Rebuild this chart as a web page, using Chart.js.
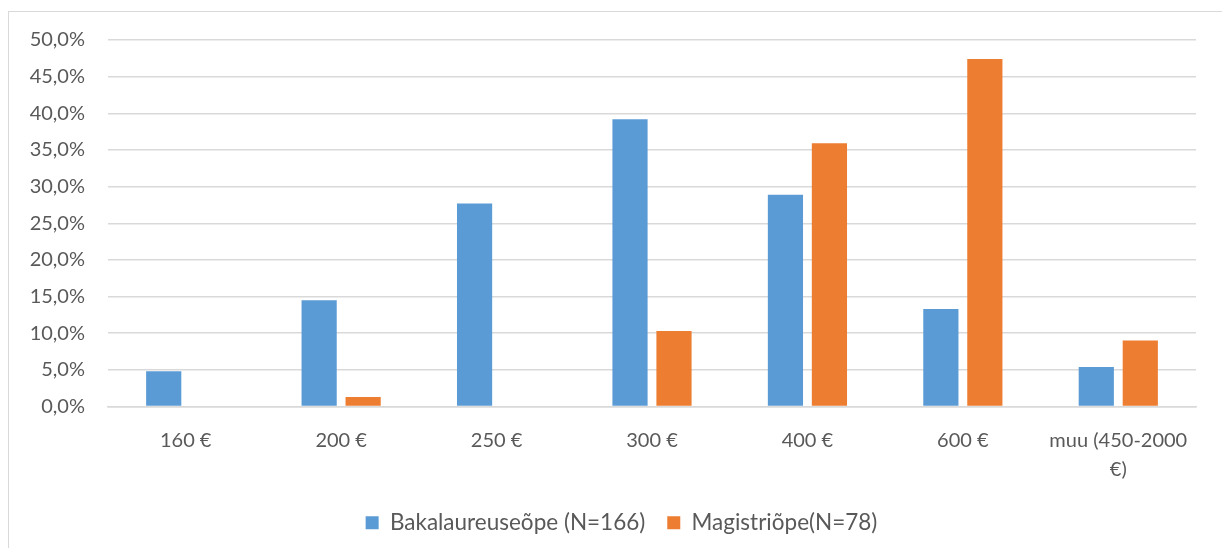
<!DOCTYPE html>
<html>
<head>
<meta charset="utf-8">
<script src="https://cdn.jsdelivr.net/npm/chart.js@4"></script>
<style>
    body { margin: 0; background: #fff; overflow: hidden; }
    #kast { position: absolute; left: 8px; top: 11px; width: 1260px; height: 580px;
            border-left: 1px solid #d9d9d9; border-top: 1px solid #d9d9d9; }
    #ChartDiv { position: absolute; left: 0; top: -7px; width: 1241px; height: 563px; }
</style>
</head>
<body>
<div id="kast">
    <div id="ChartDiv"><canvas id="SimulChart"></canvas></div>
</div>
<script>
/*Andmed*/
const kategooriad = ['160 €', '200 €', '250 €', '300 €', '400 €', '600 €', ['muu (450-2000', '€)']]
const bakalaureus = [4.8, 14.5, 27.7, 39.2, 28.9, 13.3, 5.4]
const magister = [0, 1.3, 0, 10.3, 35.9, 47.4, 9.0]
const seeriad = ['Bakalaureuseõpe (N=166)', 'Magistriõpe(N=78)']

/*Formaat 50,0%*/
function protsent(v) {
    return v.toFixed(1).replace('.', ',') + '%'
}

const tekst = '#595959'
const font = 'Lato, "Open Sans", sans-serif'

const ctx = document.getElementById('SimulChart').getContext('2d')
const SimulChart = new Chart(ctx, {
    type: 'bar',
    data: {
        labels: kategooriad,
        datasets: [{
            label: seeriad[0],
            data: bakalaureus,
            backgroundColor: '#5b9bd5',
            borderWidth: 0
        }, {
            label: seeriad[1],
            data: magister,
            backgroundColor: '#ed7d31',
            borderWidth: 0
        }]
    },
    options: {
        responsive: true,
        maintainAspectRatio: false,
        animation: false,
        barPercentage: 0.8,
        categoryPercentage: 0.566,
        layout: { padding: { left: 10, right: 26, top: 3, bottom: 24 } },
        plugins: {
            tooltip: { enabled: false },
            legend: {
                position: 'bottom',
                labels: {
                    color: tekst,
                    font: { family: font, size: 22.5 },
                    boxWidth: 13,
                    boxHeight: 13,
                    padding: 22
                }
            }
        },
        scales: {
            x: {
                grid: { display: false },
                border: { color: '#d9d9d9', width: 1.5 },
                afterFit: function (scale) { scale.height -= 7 },
                ticks: {
                    color: tekst,
                    font: { family: font, size: 20, lineHeight: 1.45 },
                    padding: 12,
                    maxRotation: 0
                }
            },
            y: {
                min: 0,
                max: 50,
                grid: { color: '#d9d9d9', lineWidth: 1.5, drawTicks: false },
                border: { display: false },
                afterFit: function (scale) { scale.width = 89 },
                ticks: {
                    stepSize: 5,
                    color: tekst,
                    font: { family: font, size: 20 },
                    padding: 23,
                    callback: function (v) { return protsent(v) }
                }
            },
            /*tühi telg paremal, et legend jääks paigale*/
            y2: {
                position: 'right',
                grid: { display: false },
                border: { display: false },
                ticks: { display: false },
                afterFit: function (scale) { scale.width = 28 }
            }
        }
    }
})
</script>
</body>
</html>
